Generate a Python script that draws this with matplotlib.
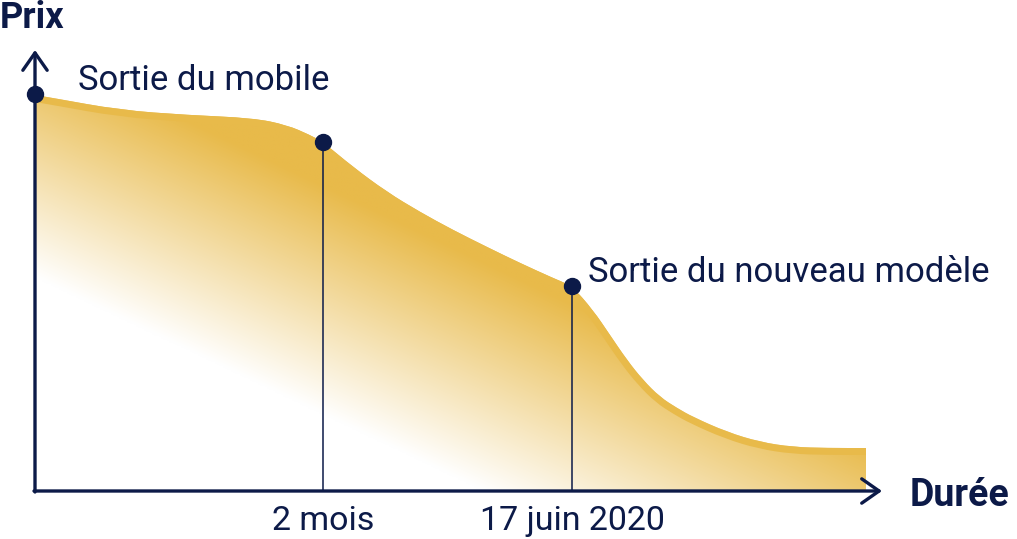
import numpy as np
import matplotlib
matplotlib.use("Agg")
import matplotlib.pyplot as plt
from matplotlib.colors import to_rgb
from matplotlib.path import Path
from matplotlib.patches import PathPatch

plt.rcParams["font.family"] = ["Roboto", "DejaVu Sans"]

# ── données (durée, prix en unités arbitraires) ──────────────────────────────
duree = [0, 18, 85, 152, 218, 252, 275, 288, 318, 352, 385, 418, 452, 485,
         518, 537, 558, 575, 592, 608, 625, 642, 658, 692, 725, 758, 792, 831]
prix = [396, 393, 381, 376, 373, 366, 356, 349, 324, 299, 279, 261, 244, 228,
        213, 205, 181, 156, 131, 111, 94, 83, 74, 59, 49, 44, 43, 43]

points_x = [0, 288, 537]
points_y = [397, 349, 205]
reperes_x = [288, 537]
reperes_labels = ["2 mois", "17 juin 2020"]
annotations = ["Sortie du mobile", "Sortie du nouveau modèle"]

NAVY = "#0C1A48"
GOLD = "#E8BA4A"

fig = plt.figure(figsize=(10.17, 5.39), dpi=100)
ax = fig.add_axes([0, 0, 1, 1])
ax.set_xlim(-35, 982)
ax.set_ylim(-48, 491)
ax.axis("off")

# ── courbe lissée (bezier quadratique par les milieux) ───────────────────────
pts = np.column_stack([duree, prix]).astype(float)
verts = [pts[0], (pts[0] + pts[1]) / 2]
codes = [Path.MOVETO, Path.LINETO]
for i in range(1, len(pts) - 1):
    verts += [pts[i], (pts[i] + pts[i + 1]) / 2]
    codes += [Path.CURVE3, Path.CURVE3]
verts.append(pts[-1])
codes.append(Path.LINETO)
courbe = Path(verts, codes)
zone = Path(verts + [(duree[-1], 0), (duree[0], 0), (0, 0)],
            codes + [Path.LINETO, Path.LINETO, Path.CLOSEPOLY])

clip = PathPatch(zone, facecolor="none", edgecolor="none", transform=ax.transData)
ax.add_patch(clip)

# dégradé blanc -> or
xmax, ymax = max(duree), max(prix)
gx, gy = np.meshgrid(np.linspace(0, 1, 400), np.linspace(0, 1, 300))
t = (gx + gy) / 2
s = np.clip((t - 0.27) / 0.29, 0, 1)[..., None]
rgb = np.array([1, 1, 1]) * (1 - s) + np.array(to_rgb(GOLD)) * s
im = ax.imshow(rgb, extent=[0, xmax, 0, ymax], origin="lower",
               aspect="auto", interpolation="bilinear", zorder=1)
im.set_clip_path(clip)

# liseré sur le bord haut
bord = PathPatch(courbe, facecolor="none", edgecolor=GOLD, lw=10, zorder=2,
                 capstyle="butt")
ax.add_patch(bord)
bord.set_clip_path(clip)

# repères verticaux
for xr, py in zip(reperes_x, points_y[1:]):
    ax.plot([xr, xr], [0, py], color=NAVY, lw=1.1, zorder=3)
for xr, lab in zip(reperes_x, reperes_labels):
    ax.text(xr, -30, lab, ha="center", va="center", fontsize=24.5, color=NAVY)

# axes avec flèches
arrow = dict(arrowstyle="->,head_length=0.5,head_width=0.35", lw=2.4,
             color=NAVY, mutation_scale=25, shrinkA=0, shrinkB=0)
ax.annotate("", xy=(0, 441), xytext=(0, -1), arrowprops=arrow, zorder=4)
ax.annotate("", xy=(847, 0), xytext=(-1, 0), arrowprops=arrow, zorder=4)

ax.plot(points_x, points_y, "o", color=NAVY, ms=11.5, zorder=5)

ax.text(43, 410, annotations[0], ha="left", va="center", fontsize=25, color=NAVY)
ax.text(553, 218, annotations[1], ha="left", va="center", fontsize=25, color=NAVY)

ax.text(-35, 473, "Prix", ha="left", va="center", fontsize=26,
        color=NAVY, fontweight="bold")
ax.text(875, -4, "Durée", ha="left", va="center", fontsize=27,
        color=NAVY, fontweight="bold")

fig.savefig("out.png", dpi=100)
